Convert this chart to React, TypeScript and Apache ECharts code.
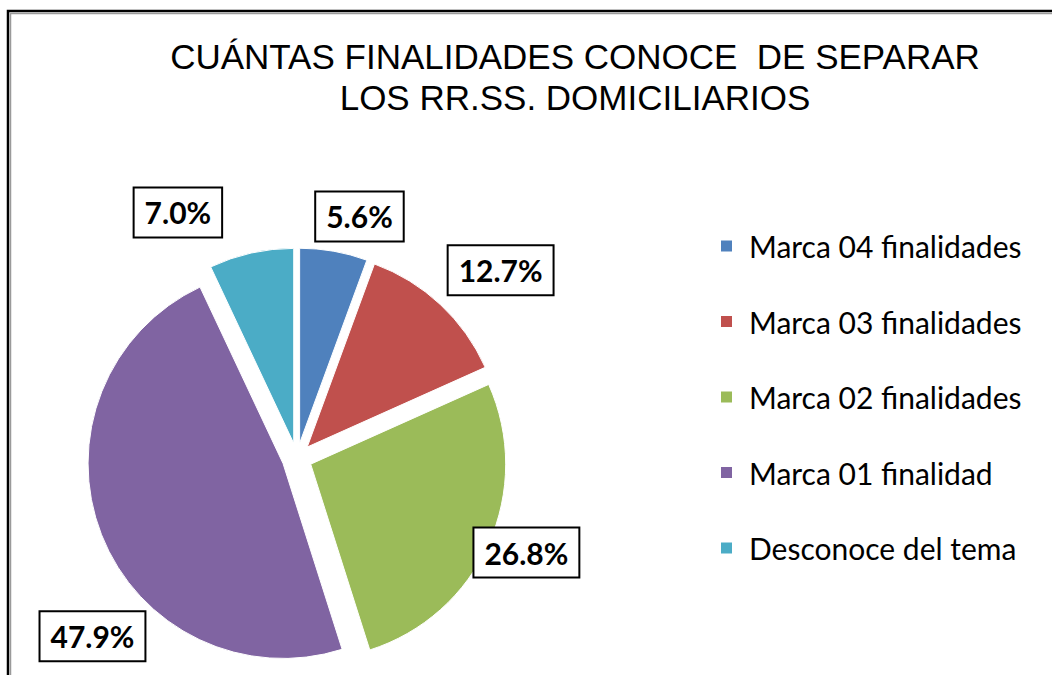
import React, { useEffect, useRef } from "react";
import * as echarts from "echarts";

const titleLines = ["CUÁNTAS FINALIDADES CONOCE  DE SEPARAR", "LOS RR.SS. DOMICILIARIOS"];
const categories = [
  "Marca 04 finalidades",
  "Marca 03 finalidades",
  "Marca 02 finalidades",
  "Marca 01 finalidad",
  "Desconoce del tema",
];
const values = [5.6, 12.7, 26.8, 47.9, 7.0];
const colors = ["#4F81BD", "#C0504D", "#9BBB59", "#8064A2", "#4BACC6"];

// label placement (layout only)
const labelPos = ["outside", "outside", "outside", "inside", "outside"];
const labelShift = [
  [-25, -21],
  [-3, -25],
  [-32, 3],
  [-97, 136],
  [-22, -27],
];

export default function App() {
  const ref = useRef<HTMLDivElement>(null);
  useEffect(() => {
    if (!ref.current) return;
    const chart = echarts.init(ref.current, undefined, { renderer: "svg" });
    chart.setOption({
      animation: false,
      backgroundColor: "#ffffff",
      title: {
        text: titleLines.join("\n"),
        left: 570,
        textAlign: "center",
        top: 31,
        textStyle: {
          fontFamily: "Liberation Sans",
          fontWeight: "normal",
          fontSize: 35,
          lineHeight: 41,
          color: "#000",
        },
      },
      legend: {
        orient: "vertical",
        left: 714,
        top: 226,
        icon: "rect",
        itemWidth: 13,
        itemHeight: 13,
        itemGap: 45.5,
        data: categories,
        textStyle: {
          fontFamily: "Lato",
          fontSize: 30,
          lineHeight: 30,
          color: "#000",
          padding: [0, 0, 0, 11],
        },
      },
      graphic: [
        {
          type: "rect",
          shape: { x: 8, y: 11, width: 1200, height: 800 },
          style: { fill: "none", stroke: "#000", lineWidth: 2.5 },
          silent: true,
        },
        {
          type: "polyline",
          shape: { points: [[10.5, 700], [10.5, 13.5], [1100, 13.5]] },
          style: { fill: "none", stroke: "#9a9a9a", lineWidth: 1.5 },
          silent: true,
        },
      ],
      series: [
        {
          type: "pie",
          center: [297, 458],
          radius: 195,
          startAngle: 90,
          clockwise: true,
          selectedMode: "multiple",
          selectedOffset: 15,
          itemStyle: { borderColor: "#ffffff", borderWidth: 1 },
          emphasis: { disabled: true },
          label: {
            show: true,
            position: "outside",
            overflow: "none",
            formatter: (p: any) => Number(p.value).toFixed(1) + "%",
            fontFamily: "Lato",
            fontWeight: "bold",
            fontSize: 30,
            color: "#000",
            backgroundColor: "#fff",
            borderColor: "#000",
            borderWidth: 2,
            padding: [10, 10, 8, 10],
          },
          labelLine: { show: false, length: 14, length2: 0 },
          labelLayout: (p: any) => {
            const s = labelShift[p.dataIndex];
            return { dx: s[0], dy: s[1] };
          },
          data: categories.map((name, i) => ({
            name,
            value: values[i],
            selected: true,
            itemStyle: { color: colors[i] },
            label: { position: labelPos[i], color: "#000" },
          })),
        },
      ],
    });
    return () => chart.dispose();
  }, []);
  return (
    <div
      ref={ref}
      style={{ position: "fixed", left: 0, top: 0, width: 1052, height: 675 }}
    />
  );
}
